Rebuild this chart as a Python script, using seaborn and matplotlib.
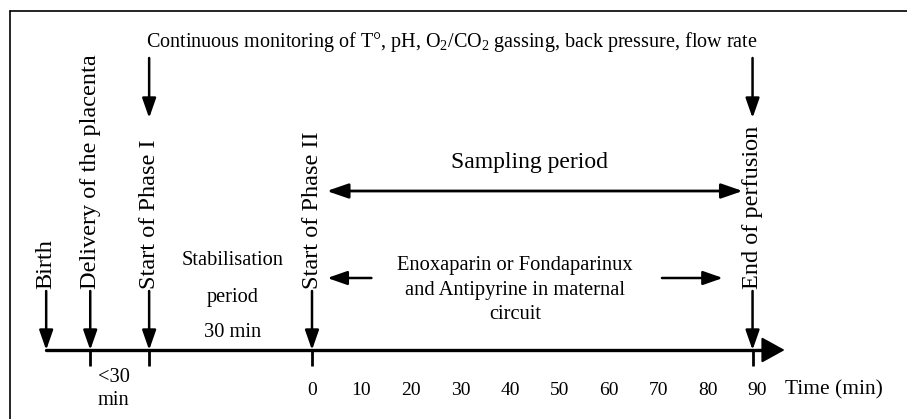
import numpy as np
import pandas as pd
import matplotlib
matplotlib.use("Agg")
import matplotlib.pyplot as plt
import seaborn as sns

# timeline events (minutes relative to start of phase II)
event_labels = ["Birth", "Delivery of the placenta", "Start of Phase I",
                "Start of Phase II", "End of perfusion"]
event_min = [-53.7, -44.8, -32.9, 0, 89]
time_ticks = [0, 10, 20, 30, 40, 50, 60, 70, 80, 90]
sampling_span = [3, 87]

sns.set_theme(style="white")
plt.rcParams['font.family'] = ['Liberation Serif', 'DejaVu Serif']
plt.rcParams['text.color'] = 'black'
plt.rcParams['mathtext.fontset'] = 'custom'
plt.rcParams['mathtext.rm'] = 'Liberation Serif'
plt.rcParams['mathtext.it'] = 'Liberation Serif:italic'

# px = 312 + 4.95 * minute
fig = plt.figure(figsize=(9.07, 4.19), dpi=100)
ax = fig.add_axes([0, 0, 1, 1])
ax.set_xlim(-312 / 4.95, 595 / 4.95)
ax.set_ylim(419, 0)
ax.axis("off")

# frame (left and top only visible)
ax.plot([-61.0, -61.0], [430, 11.5], color="black", lw=1.2, clip_on=False)
ax.plot([-61.0, 125], [11.5, 11.5], color="black", lw=1.2, clip_on=False)

line_y = 350
# main time axis
axis_df = pd.DataFrame({"t": [event_min[0], 92], "y": [line_y, line_y]})
sns.lineplot(data=axis_df, x="t", y="y", ax=ax, color="black", lw=2.4)
ax.annotate("", xy=(95.5, line_y), xytext=(90, line_y),
            arrowprops=dict(arrowstyle="-|>,head_length=1.45,head_width=0.8",
                            mutation_scale=10, color="black", lw=1.5,
                            shrinkA=0, shrinkB=0))

# stubs below axis (not for birth)
ax.vlines(event_min[1:], line_y, 366, color="black", lw=2.0)

head = "-|>,head_length=1.2,head_width=0.42"
for lab, t in zip(event_labels, event_min):
    ax.text(t, 289, lab, rotation=90, ha="center", va="bottom", fontsize=17.5)
    ax.annotate("", xy=(t, line_y), xytext=(t, 291),
                arrowprops=dict(arrowstyle=head, mutation_scale=10,
                                color="black", lw=1.8, shrinkA=0, shrinkB=0))

# arrows from monitoring text
for t in [event_min[2], event_min[4]]:
    ax.annotate("", xy=(t, 118), xytext=(t, 58),
                arrowprops=dict(arrowstyle=head, mutation_scale=10,
                                color="black", lw=1.8, shrinkA=0, shrinkB=0))

ax.text(28.3, 42, "Continuous monitoring of T°, pH, O$_2$/CO$_2$ gassing, "
        "back pressure, flow rate", ha="center", va="center", fontsize=14.5)

# sampling period
ax.text(44, 162, "Sampling period", ha="center", va="center", fontsize=17)
ax.annotate("", xy=(sampling_span[0], 191), xytext=(sampling_span[1], 191),
            arrowprops=dict(arrowstyle="<|-|>,head_length=1.3,head_width=0.45",
                            mutation_scale=10, color="black", lw=2.0,
                            shrinkA=0, shrinkB=0))

# drug infusion
ax.text(41, 290, "Enoxaparin or Fondaparinux\nand Antipyrine in maternal\ncircuit",
        ha="center", va="center", fontsize=14.8, linespacing=1.42)
ax.annotate("", xy=(3.1, 278), xytext=(12, 278),
            arrowprops=dict(arrowstyle=head, mutation_scale=10,
                            color="black", lw=1.8, shrinkA=0, shrinkB=0))
ax.annotate("", xy=(83, 278), xytext=(70.7, 278),
            arrowprops=dict(arrowstyle=head, mutation_scale=10,
                            color="black", lw=1.8, shrinkA=0, shrinkB=0))

# stabilisation
ax.text(-16, 260, "Stabilisation", ha="center", va="center", fontsize=14.7)
ax.text(-16, 297, "period", ha="center", va="center", fontsize=14.7)
ax.text(-16, 332, "30 min", ha="center", va="center", fontsize=14.7)

ax.text(-40, 377, "<30", ha="center", va="center", fontsize=14.7)
ax.text(-40.2, 400, "min", ha="center", va="center", fontsize=14.7)

for v in time_ticks:
    ax.text(v, 390, str(v), ha="center", va="center", fontsize=14)
ax.text(105.5, 390, "Time (min)", ha="center", va="center", fontsize=15.4)

fig.savefig("out.png", dpi=100)
